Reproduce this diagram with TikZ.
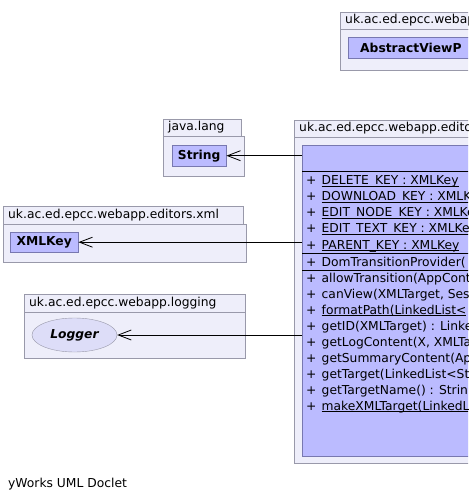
\documentclass[tikz,border=0pt]{standalone}
\usepackage{fontspec}
\setmainfont{DejaVu Sans}
\usetikzlibrary{arrows.meta,shapes.geometric}
\definecolor{pkgfill}{RGB}{238,238,250}
\definecolor{pkgline}{RGB}{153,153,170}
\definecolor{clsfill}{RGB}{187,187,255}
\definecolor{clsline}{RGB}{120,120,176}
\definecolor{ifcfill}{RGB}{221,221,248}
\newcommand{\ulstatic}[1]{\setbox0\hbox{#1}\rlap{\rule[-2.3pt]{\wd0}{0.9pt}}\box0}
\tikzset{
  every node/.style={font=\fontsize{12.3}{14}\selectfont},
  pkgbody/.style={draw=pkgline, fill=pkgfill, anchor=north west, inner sep=0pt},
  pkgtab/.style={draw=pkgline, fill=pkgfill, anchor=north west, inner xsep=5pt, inner ysep=0pt,
    align=left, text height=9pt, text depth=2.5pt},
  clsbox/.style={draw=clsline, fill=clsfill, anchor=north west, inner sep=0pt,
    font=\fontsize{12.3}{14}\selectfont\bfseries},
  member/.style={anchor=base west, inner sep=0pt},
  dep/.style={-{Straight Barb[length=13pt,width=10pt]}, line width=0.8pt},
}
\begin{document}
\begin{tikzpicture}[x=1pt, y=-1pt]
  \useasboundingbox (0,0) rectangle (468,502);
  \fill[white] (0,0) rectangle (468,502);
  \clip (0,0) rectangle (468,502);
  % packages
  \node[pkgbody, minimum width=200, minimum height=41] (topbody) at (340,29) {};
  \node[pkgtab, text width=190, minimum height=17] (toptab) at (340,12) {uk.ac.ed.epcc.webapp};
  \node[pkgbody, minimum width=81, minimum height=40] (langbody) at (163,136) {};
  \node[pkgtab, text width=68, minimum height=17] (langtab) at (163,119) {java.lang};
  \node[pkgbody, minimum width=243, minimum height=38] (xmlbody) at (3,224) {};
  \node[pkgtab, text width=230, minimum height=18] (xmltab) at (3,206) {uk.ac.ed.epcc.webapp.editors.xml};
  \node[pkgbody, minimum width=221, minimum height=46] (logbody) at (24,312) {};
  \node[pkgtab, text width=211, minimum height=18] (logtab) at (24,294) {uk.ac.ed.epcc.webapp.logging};
  \node[pkgbody, minimum width=250, minimum height=326] (mainbody) at (294,137) {};
  \node[pkgtab, text width=240, minimum height=17] (maintab) at (294,120) {uk.ac.ed.epcc.webapp.editors};
  % classes
  \node[clsbox, minimum width=200, minimum height=21, text width=188, inner xsep=12pt, align=left] (avp) at (348,37) {AbstractViewP};
  \node[clsbox, minimum width=54, minimum height=21] (str) at (172,145) {String};
  \node[clsbox, minimum width=68, minimum height=20] (key) at (10,232) {XMLKey};
  \node[draw=pkgline, fill=ifcfill, ellipse, minimum width=85, minimum height=34, inner sep=0pt,
    font=\fontsize{12.3}{14}\selectfont\bfseries\itshape] (log) at (74.5,335) {Logger};
  \node[clsbox, minimum width=230, minimum height=311] (cls) at (302,145) {};
  \draw[line width=0.8pt] (cls.north west) ++(0,26) -- ++(230,0);
  \draw[line width=0.8pt] (cls.north west) ++(0,108) -- ++(230,0);
  \draw[line width=0.8pt] (cls.north west) ++(0,125) -- ++(230,0);
  \foreach \y/\txt in {185/{\ulstatic{DELETE\_KEY : XMLKey}}, 201/{\ulstatic{DOWNLOAD\_KEY : XMLKe}},
      217/{\ulstatic{EDIT\_NODE\_KEY : XMLKey}}, 233/{\ulstatic{EDIT\_TEXT\_KEY : XMLKey}},
      249/{\ulstatic{PARENT\_KEY : XMLKey}}, 266/{DomTransitionProvider(}}
    \node[member] (m\y) at (306,\y) {\makebox[15.5pt][l]{+}\txt};
  \foreach \y/\txt in {282/{allowTransition(AppCont}, 298/{canView(XMLTarget, Ses},
      314/{\ulstatic{formatPath(LinkedList<}}, 330/{getID(XMLTarget) : Linke},
      346/{getLogContent(X, XMLTa}, 362/{getSummaryContent(Ap}, 378/{getTarget(LinkedList<St},
      394/{getTargetName() : Strin}, 410/{\ulstatic{makeXMLTarget(LinkedL}}}
    \node[member] (f\y) at (306,\y) {\makebox[15.5pt][l]{+}\txt};
  % dependencies
  \draw[dep] (cls.west |- str.east) -- (str.east);
  \draw[dep] (cls.west |- key.east) -- (key.east);
  \draw[dep] (cls.west |- log.east) -- (log.east);
  \node[member] (credit) at (8,487) {yWorks UML Doclet};
\end{tikzpicture}
\end{document}
